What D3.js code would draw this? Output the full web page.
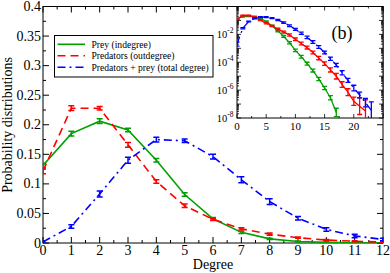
<!DOCTYPE html>
<html><head><meta charset="utf-8">
<script src="https://cdn.jsdelivr.net/npm/d3@7"></script>
<style>body{margin:0;background:#fff}svg{display:block}text{font-family:"Liberation Serif","DejaVu Serif",serif}</style>
</head><body><svg id="c" width="390" height="273" font-family="Liberation Serif, DejaVu Serif, serif"></svg>
<script>
// ---- main panel data ----
const degrees = [0,1,2,3,4,5,6,7,8,9,10,11,12];
const preyIn    = [0.131,0.185,0.206,0.191,0.140,0.082,0.041,0.018,0.007,0.0025,0.001,0.0004,0.0001];
const preyInErr = [0.004,0.004,0.004,0.003,0.003,0.003,0.002,0.002,0.001,0.001,0.0005,0.0003,0.0002];
const predOut    = [0.122,0.228,0.228,0.166,0.104,0.063,0.040,0.024,0.015,0.009,0.005,0.003,0.0015];
const predOutErr = [0.005,0.004,0.003,0.004,0.003,0.003,0.002,0.002,0.002,0.001,0.001,0.001,0.0005];
const total    = [0.002,0.028,0.083,0.140,0.175,0.173,0.146,0.107,0.070,0.042,0.023,0.012,0.006];
const totalErr = [0.002,0.003,0.005,0.005,0.004,0.003,0.004,0.005,0.005,0.003,0.003,0.003,0.002];
const xTicks = [0,1,2,3,4,5,6,7,8,9,10,11,12];
const yTicks = [0,0.05,0.1,0.15,0.2,0.25,0.3,0.35,0.4];
const yTickLabels = ["0","0.05","0.1","0.15","0.2","0.25","0.3","0.35","0.4"];
const legendLabels = ["Prey (indegree)","Predators (outdegree)","Predators + prey (total degree)"];

// ---- inset (log10 of probability) ----
const insetPreyK = [0,1,2,3,4,5,6,7,8,9,10,11,12,13,14,15,16,17];
const insetPreyLog = [-0.88,-0.73,-0.69,-0.72,-0.85,-1.08,-1.38,-1.75,-2.15,-2.6,-3.15,-3.6,-4.1,-4.6,-5.2,-5.85,-6.55,-7.6];
const insetPreyErr = [0.03,0.03,0.03,0.03,0.03,0.04,0.05,0.06,0.07,0.08,0.09,0.1,0.1,0.1,0.12,0.12,0.15,0.3];
const insetPredK = [0,1,2,3,4,5,6,7,8,9,10,11,12,13,14,15,16,17,18,19,20,21,22];
const insetPredLog = [-0.915,-0.642,-0.642,-0.78,-0.985,-1.2,-1.4,-1.62,-1.83,-2.05,-2.35,-2.65,-2.95,-3.3,-3.7,-4.1,-4.55,-5.0,-5.6,-6.15,-6.8,-7.15,-7.5];
const insetPredErr = [0.03,0.03,0.03,0.03,0.03,0.04,0.05,0.06,0.07,0.08,0.09,0.1,0.1,0.1,0.12,0.12,0.15,0.2,0.2,0.25,0.3,0.6,0.8];
const insetTotK = [0,1,2,3,4,5,6,7,8,9,10,11,12,13,14,15,16,17,18,19,20,21,22,23];
const insetTotLog = [-2.7,-1.56,-1.08,-0.855,-0.758,-0.762,-0.836,-0.97,-1.155,-1.38,-1.64,-1.92,-2.22,-2.55,-2.9,-3.3,-3.75,-4.2,-4.75,-5.3,-5.85,-6.35,-6.9,-7.45];
const insetTotErr = [0.15,0.05,0.03,0.03,0.03,0.03,0.03,0.04,0.05,0.06,0.07,0.08,0.09,0.1,0.1,0.1,0.12,0.12,0.15,0.15,0.2,0.2,0.3,0.6];
const insetXTicks = [0,5,10,15,20];
const insetYExps = [-2,-4,-6,-8];

const colors = ["#00a000","#ff0000","#0000ff"];
const dashes = [null,"8,5","8,4,2,4"];
const FF = "Liberation Serif, DejaVu Serif, serif";

const svg = d3.select("#c");
const M = {l:43,r:383,t:6.5,b:243};
const x = d3.scaleLinear().domain([0,12]).range([M.l,M.r]);
const y = d3.scaleLinear().domain([0,0.4]).range([M.b,M.t]);

const main = svg.append("g");
main.append("rect").attr("x",M.l).attr("y",M.t).attr("width",M.r-M.l).attr("height",M.b-M.t)
  .attr("fill","#fff").attr("stroke","#000").attr("stroke-width",1);

const xMinor = d3.range(0,12.01,0.5);
const yMinor = d3.range(0,0.4001,0.025);
const tk = main.append("g").attr("stroke","#000").attr("stroke-width",1);
xMinor.forEach(v=>{
  const maj = Math.abs(v-Math.round(v))<1e-6; const L = maj?6:3;
  tk.append("line").attr("x1",x(v)).attr("x2",x(v)).attr("y1",M.b).attr("y2",M.b-L);
  tk.append("line").attr("x1",x(v)).attr("x2",x(v)).attr("y1",M.t).attr("y2",M.t+L);
});
yMinor.forEach(v=>{
  const maj = Math.abs(v/0.05-Math.round(v/0.05))<1e-6; const L = maj?6:3;
  tk.append("line").attr("y1",y(v)).attr("y2",y(v)).attr("x1",M.l).attr("x2",M.l+L);
  tk.append("line").attr("y1",y(v)).attr("y2",y(v)).attr("x1",M.r).attr("x2",M.r-L);
});
main.append("g").selectAll("text").data(xTicks).join("text").attr("font-family",FF)
  .attr("x",d=>x(d)).attr("y",255).attr("text-anchor","middle").attr("font-size",14).text(d=>d);
main.append("g").selectAll("text").data(yTicks).join("text").attr("font-family",FF)
  .attr("x",41).attr("y",d=>y(d)+4.5).attr("text-anchor","end").attr("font-size",14).text((d,i)=>yTickLabels[i]);
main.append("text").attr("font-family",FF).attr("x",213).attr("y",269).attr("text-anchor","middle").attr("font-size",14).text("Degree");
main.append("text").attr("font-family",FF).attr("transform","translate(12,125) rotate(-90)").attr("text-anchor","middle").attr("font-size",14).text("Probability distributions");

const series = [[preyIn,preyInErr],[predOut,predOutErr],[total,totalErr]];
const line = d3.line().x((d,i)=>x(degrees[i])).y(d=>y(d));
svg.append("clipPath").attr("id","cm").append("rect").attr("x",M.l).attr("y",M.t).attr("width",M.r-M.l).attr("height",M.b-M.t);
const plotG = main.append("g").attr("clip-path","url(#cm)");
series.forEach(([vals,errs],s)=>{
  const g = plotG.append("g");
  g.append("path").attr("d",line(vals)).attr("fill","none").attr("stroke",colors[s]).attr("stroke-width",1.6)
    .attr("stroke-dasharray",dashes[s]);
  vals.forEach((v,i)=>{
    const cx = x(degrees[i]), y1=y(v+errs[i]), y2=y(Math.max(0,v-errs[i]));
    g.append("line").attr("x1",cx).attr("x2",cx).attr("y1",y1).attr("y2",y2).attr("stroke",colors[s]).attr("stroke-width",1.5);
    g.append("line").attr("x1",cx-3).attr("x2",cx+3).attr("y1",y1).attr("y2",y1).attr("stroke",colors[s]).attr("stroke-width",1.5);
    g.append("line").attr("x1",cx-3).attr("x2",cx+3).attr("y1",y2).attr("y2",y2).attr("stroke",colors[s]).attr("stroke-width",1.5);
  });
});

// legend
const lg = main.append("g");
lg.append("rect").attr("x",54.5).attr("y",35.5).attr("width",158.5).attr("height",41.5).attr("fill","#fff").attr("stroke","#000").attr("stroke-width",1);
legendLabels.forEach((t,i)=>{
  const cy = 44.3 + i*11.5;
  lg.append("line").attr("x1",57.5).attr("x2",85).attr("y1",cy).attr("y2",cy).attr("stroke",colors[i]).attr("stroke-width",1.6).attr("stroke-dasharray",dashes[i]);
  lg.append("text").attr("font-family",FF).attr("x",91.5).attr("y",cy+3.3).attr("font-size",9.6).text(t);
});

// ---- inset ----
const I = {l:237,r:383,t:6.5,b:118};
const xi = d3.scaleLinear().domain([0,25]).range([I.l,I.r]);
const yi = d3.scaleLog().domain([1e-8,1]).range([I.b,I.t]);
const ins = svg.append("g");
ins.append("rect").attr("x",I.l).attr("y",I.t).attr("width",I.r-I.l).attr("height",I.b-I.t).attr("fill","#fff").attr("stroke","#000").attr("stroke-width",1);
const itk = ins.append("g").attr("stroke","#000").attr("stroke-width",0.8);
d3.range(0,25.01,2.5).forEach(v=>{
  const L = (v%5===0)?4:2;
  itk.append("line").attr("x1",xi(v)).attr("x2",xi(v)).attr("y1",I.b).attr("y2",I.b-L);
  itk.append("line").attr("x1",xi(v)).attr("x2",xi(v)).attr("y1",I.t).attr("y2",I.t+L);
});
for(let e=-8;e<=0;e++){
  const L = 4;
  itk.append("line").attr("y1",yi(Math.pow(10,e))).attr("y2",yi(Math.pow(10,e))).attr("x1",I.l).attr("x2",I.l+L);
  itk.append("line").attr("y1",yi(Math.pow(10,e))).attr("y2",yi(Math.pow(10,e))).attr("x1",I.r).attr("x2",I.r-L);
  if(e<0){
    for(let m=2;m<=9;m++){
      const v = m*Math.pow(10,e);
      itk.append("line").attr("y1",yi(v)).attr("y2",yi(v)).attr("x1",I.l).attr("x2",I.l+2);
      itk.append("line").attr("y1",yi(v)).attr("y2",yi(v)).attr("x1",I.r).attr("x2",I.r-2);
    }
  }
}
ins.append("g").selectAll("text").data(insetXTicks).join("text").attr("font-family",FF)
  .attr("x",d=>xi(d)).attr("y",129.5).attr("text-anchor","middle").attr("font-size",11).text(d=>d);
insetYExps.forEach(e=>{
  const t = ins.append("text").attr("font-family",FF).attr("x",233.5).attr("y",yi(Math.pow(10,e))+3.5).attr("text-anchor","end").attr("font-size",10.5);
  t.append("tspan").text("10");
  t.append("tspan").attr("dy",-4.5).attr("font-size",7.5).text(String(e));
});
ins.append("text").attr("font-family",FF).attr("x",342).attr("y",38.5).attr("text-anchor","middle").attr("font-size",18).text("(b)");

svg.append("clipPath").attr("id","ci").append("rect").attr("x",I.l).attr("y",I.t).attr("width",I.r-I.l).attr("height",I.b-I.t);
const ip = ins.append("g").attr("clip-path","url(#ci)");
const iseries = [[insetPreyK,insetPreyLog,insetPreyErr],[insetPredK,insetPredLog,insetPredErr],[insetTotK,insetTotLog,insetTotErr]];
iseries.forEach(([ks,lv,er],s)=>{
  const g = ip.append("g");
  const l = d3.line().x((d,i)=>xi(ks[i])).y(d=>yi(Math.pow(10,d)));
  g.append("path").attr("d",l(lv)).attr("fill","none").attr("stroke",colors[s]).attr("stroke-width",1.3)
    .attr("stroke-dasharray",s===2?"8,4,2,4":null);
  lv.forEach((v,i)=>{
    const cx = xi(ks[i]), y1 = yi(Math.pow(10,v+er[i])), y2 = yi(Math.pow(10,v-er[i]));
    g.append("line").attr("x1",cx).attr("x2",cx).attr("y1",y1).attr("y2",y2).attr("stroke",colors[s]).attr("stroke-width",1.3);
    g.append("line").attr("x1",cx-2.5).attr("x2",cx+2.5).attr("y1",y1).attr("y2",y1).attr("stroke",colors[s]).attr("stroke-width",1.3);
    g.append("line").attr("x1",cx-2.5).attr("x2",cx+2.5).attr("y1",y2).attr("y2",y2).attr("stroke",colors[s]).attr("stroke-width",1.3);
  });
});
</script></body></html>
